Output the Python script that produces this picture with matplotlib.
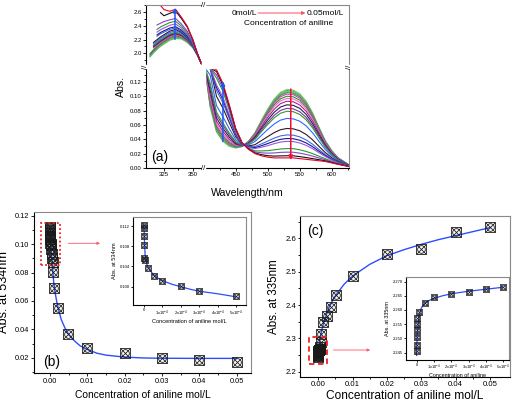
import numpy as np
import matplotlib
matplotlib.use('Agg')
import matplotlib.pyplot as plt
from matplotlib.patches import Rectangle

plt.rcParams['font.family'] = ['Liberation Sans', 'DejaVu Sans']
plt.rcParams['mathtext.default'] = 'regular'

# ---------------- (a) spectra, 0 -> 0.05 mol/L aniline ----------------
uv_wl = [313, 316, 319, 322, 325, 330, 335, 340, 345, 350, 354, 358]
vis_wl = [400, 410, 420, 430, 440, 450, 460, 470, 480, 490, 500, 510,
          520, 530, 540, 550, 560, 570, 580, 590, 600, 610, 627]

# UV band values, each list ends at 358 nm (curves start at different wavelengths)
uv_abs = [
    [1.945, 2.005, 2.055, 2.100, 2.135, 2.190, 2.215, 2.210, 2.160, 2.080, 1.970, 1.79],
    [1.955, 2.015, 2.065, 2.110, 2.145, 2.200, 2.225, 2.217, 2.166, 2.083, 1.970, 1.79],
    [1.965, 2.025, 2.075, 2.120, 2.155, 2.210, 2.235, 2.225, 2.171, 2.086, 1.971, 1.79],
    [1.975, 2.035, 2.085, 2.130, 2.165, 2.220, 2.245, 2.232, 2.177, 2.088, 1.971, 1.79],
    [1.985, 2.045, 2.095, 2.140, 2.175, 2.230, 2.255, 2.240, 2.182, 2.091, 1.972, 1.79],
    [1.995, 2.052, 2.102, 2.147, 2.182, 2.237, 2.262, 2.245, 2.186, 2.093, 1.972, 1.79],
    [2.080, 2.120, 2.160, 2.192, 2.245, 2.270, 2.251, 2.191, 2.095, 1.973, 1.79],
    [2.090, 2.130, 2.170, 2.202, 2.255, 2.280, 2.258, 2.196, 2.098, 1.973, 1.79],
    [2.100, 2.140, 2.180, 2.212, 2.265, 2.290, 2.266, 2.202, 2.101, 1.973, 1.79],
    [2.110, 2.150, 2.190, 2.222, 2.275, 2.300, 2.273, 2.208, 2.104, 1.974, 1.79],
    [2.120, 2.160, 2.200, 2.232, 2.285, 2.310, 2.281, 2.213, 2.107, 1.974, 1.79],
    [2.140, 2.180, 2.220, 2.252, 2.305, 2.330, 2.295, 2.224, 2.112, 1.975, 1.79],
    [2.160, 2.200, 2.240, 2.272, 2.325, 2.350, 2.310, 2.235, 2.118, 1.976, 1.79],
    [2.250, 2.285, 2.310, 2.350, 2.370, 2.325, 2.246, 2.123, 1.977, 1.79],
    [2.270, 2.305, 2.330, 2.370, 2.390, 2.340, 2.258, 2.129, 1.978, 1.79],
    [2.310, 2.345, 2.370, 2.410, 2.430, 2.370, 2.280, 2.140, 1.980, 1.79],
    [2.350, 2.385, 2.410, 2.450, 2.470, 2.400, 2.302, 2.151, 1.982, 1.79],
    [2.415, 2.440, 2.465, 2.490, 2.510, 2.430, 2.325, 2.162, 1.984, 1.79],
    [2.595, 2.550, 2.585, 2.620, 2.510, 2.386, 2.193, 1.989, 1.79],
    [2.700, 2.640, 2.615, 2.645, 2.530, 2.400, 2.200, 1.990, 1.79],
]

vis_abs = [
    [0.300, 0.085, 0.050, 0.037, 0.030, 0.028, 0.030, 0.037, 0.049, 0.066, 0.082, 0.096,
     0.1055, 0.1095, 0.1085, 0.1035, 0.093, 0.077, 0.057, 0.038, 0.024, 0.014, 0.004],
    [0.300, 0.087, 0.051, 0.038, 0.031, 0.028, 0.030, 0.037, 0.0485, 0.065, 0.081, 0.095,
     0.104, 0.108, 0.107, 0.102, 0.092, 0.076, 0.056, 0.0375, 0.024, 0.014, 0.004],
    [0.301, 0.088, 0.053, 0.0395, 0.032, 0.029, 0.030, 0.037, 0.048, 0.0645, 0.080, 0.0935,
     0.1027, 0.1065, 0.1056, 0.1007, 0.0905, 0.075, 0.0555, 0.037, 0.0235, 0.014, 0.004],
    [0.301, 0.090, 0.054, 0.041, 0.033, 0.029, 0.030, 0.0365, 0.0476, 0.0637, 0.0789, 0.0921,
     0.1012, 0.105, 0.1041, 0.0992, 0.0892, 0.0739, 0.0548, 0.0366, 0.0232, 0.0136, 0.004],
    [0.302, 0.092, 0.056, 0.0425, 0.034, 0.030, 0.030, 0.0363, 0.047, 0.0627, 0.0774, 0.0904,
     0.0993, 0.103, 0.1021, 0.0973, 0.0875, 0.0725, 0.0538, 0.036, 0.0228, 0.0134, 0.0039],
    [0.303, 0.0954, 0.0586, 0.045, 0.0357, 0.0307, 0.0305, 0.0359, 0.0461, 0.0611, 0.0754, 0.0879,
     0.0964, 0.100, 0.0991, 0.0945, 0.085, 0.0705, 0.0523, 0.0351, 0.0223, 0.0131, 0.0038],
    [0.304, 0.0988, 0.0614, 0.0476, 0.0376, 0.0315, 0.0307, 0.0356, 0.0452, 0.0596, 0.0732, 0.0853,
     0.0935, 0.097, 0.0961, 0.0916, 0.0824, 0.0684, 0.0508, 0.0342, 0.0218, 0.0128, 0.0037],
    [0.305, 0.1032, 0.0651, 0.051, 0.040, 0.0327, 0.0309, 0.0351, 0.044, 0.0575, 0.0704, 0.0818,
     0.0897, 0.093, 0.0922, 0.0878, 0.079, 0.0656, 0.0489, 0.033, 0.0211, 0.0124, 0.0037],
    [0.307, 0.1086, 0.0696, 0.0552, 0.043, 0.0341, 0.0311, 0.0345, 0.0425, 0.055, 0.0669, 0.0775,
     0.0849, 0.088, 0.0872, 0.0831, 0.0748, 0.0621, 0.0464, 0.0315, 0.0202, 0.012, 0.0036],
    [0.308, 0.1141, 0.0741, 0.0594, 0.0461, 0.0355, 0.0314, 0.034, 0.041, 0.0524, 0.0634, 0.0733,
     0.0802, 0.083, 0.0823, 0.0784, 0.0706, 0.0587, 0.044, 0.030, 0.0193, 0.0115, 0.0034],
    [0.310, 0.1185, 0.0778, 0.0628, 0.0485, 0.0366, 0.0316, 0.0335, 0.0397, 0.0504, 0.0606, 0.0698,
     0.0763, 0.079, 0.0784, 0.0746, 0.0672, 0.0559, 0.042, 0.0287, 0.0186, 0.0111, 0.0034],
    [0.313, 0.1295, 0.0869, 0.0713, 0.0546, 0.0394, 0.0321, 0.0323, 0.0367, 0.0452, 0.0536, 0.0612,
     0.0667, 0.069, 0.0684, 0.0651, 0.0587, 0.049, 0.0371, 0.0257, 0.0168, 0.0102, 0.0032],
    [0.317, 0.145, 0.0997, 0.0833, 0.0631, 0.0434, 0.0329, 0.0307, 0.0324, 0.038, 0.0437, 0.0492,
     0.0533, 0.055, 0.0545, 0.0518, 0.0467, 0.0393, 0.0302, 0.0214, 0.0143, 0.0089, 0.0029],
    [0.320, 0.1548, 0.1079, 0.0909, 0.0686, 0.046, 0.0333, 0.0297, 0.0297, 0.0334, 0.0374, 0.0415,
     0.0447, 0.046, 0.0457, 0.0433, 0.0391, 0.0331, 0.0257, 0.0187, 0.0127, 0.008, 0.0027],
    [0.3215, 0.1603, 0.1124, 0.0951, 0.0716, 0.0474, 0.0336, 0.0291, 0.0282, 0.0309, 0.034, 0.0372,
     0.0399, 0.041, 0.0407, 0.0386, 0.0349, 0.0297, 0.0233, 0.0172, 0.0118, 0.0075, 0.0026],
    [0.323, 0.1647, 0.116, 0.0985, 0.074, 0.0485, 0.0338, 0.0287, 0.027, 0.0288, 0.0311, 0.0338,
     0.0361, 0.037, 0.0368, 0.0348, 0.0315, 0.0269, 0.0213, 0.016, 0.0111, 0.0072, 0.0025],
    [0.326, 0.1757, 0.1252, 0.107, 0.0801, 0.0513, 0.0343, 0.0275, 0.0239, 0.0237, 0.0241, 0.0252,
     0.0264, 0.027, 0.0269, 0.0253, 0.023, 0.020, 0.0164, 0.0129, 0.0093, 0.0062, 0.0023],
    [0.327, 0.1812, 0.1297, 0.1112, 0.0831, 0.0527, 0.0346, 0.0269, 0.0224, 0.0211, 0.0206, 0.0209,
     0.0217, 0.022, 0.0219, 0.0206, 0.0188, 0.0165, 0.0139, 0.0114, 0.0084, 0.0058, 0.0022],
    [0.329, 0.1867, 0.1343, 0.1155, 0.0862, 0.0542, 0.0348, 0.0263, 0.0209, 0.0185, 0.0171, 0.0165,
     0.0168, 0.017, 0.0169, 0.0158, 0.0145, 0.013, 0.0115, 0.0099, 0.0075, 0.0053, 0.0021],
    [0.330, 0.190, 0.137, 0.118, 0.088, 0.055, 0.035, 0.026, 0.020, 0.017, 0.015, 0.014,
     0.014, 0.014, 0.014, 0.013, 0.012, 0.011, 0.010, 0.009, 0.007, 0.005, 0.002],
]

spec_colors = ['#8fbf8f', '#33cc33', '#9a9a9a', '#22aa22', '#cc44cc', '#2e8b2e', '#ff66cc',
               '#aa2299', '#222244', '#7733aa', '#339933', '#3366ff', '#331a1a', '#4466ee',
               '#1a1a88', '#9955dd', '#2a9a2a', '#8844cc', '#111111', '#e8002a']

# ---------------- (b) Abs at 534 nm ----------------
conc_b = [0, 0, 0, 0, 0.00002, 0.00004, 0.00005, 0.0001, 0.0002, 0.0003, 0.0004, 0.0005,
          0.0006, 0.0007, 0.0008, 0.0011, 0.0022, 0.0049, 0.01, 0.02, 0.03, 0.04, 0.05]
abs_b = [0.1122, 0.1116, 0.1100, 0.1082, 0.1056, 0.1052, 0.1037, 0.1012, 0.1001, 0.0992, 0.0965,
         0.0935, 0.0905, 0.0875, 0.0807, 0.0689, 0.0548, 0.0367, 0.0271, 0.0231, 0.0200, 0.0184, 0.0172]
fit_b_x = [0, 0.0003, 0.0006, 0.001, 0.0015, 0.002, 0.003, 0.004, 0.005, 0.0065, 0.008, 0.01,
           0.0125, 0.015, 0.02, 0.025, 0.03, 0.04, 0.05]
fit_b_y = [0.112, 0.097, 0.086, 0.073, 0.064, 0.057, 0.047, 0.041, 0.0365, 0.032, 0.0285, 0.0258,
           0.0232, 0.0218, 0.0204, 0.0198, 0.0196, 0.0195, 0.0195]

conc_bi = [0, 0, 0, 0, 0.02e-4, 0.04e-4, 0.24e-4, 0.54e-4, 1e-4, 2e-4, 3e-4, 5e-4]
abs_bi = [0.1122, 0.1116, 0.1100, 0.1082, 0.1056, 0.1052, 0.1037, 0.1021, 0.1012, 0.1001, 0.0992, 0.0982]
fit_bi_x = [0, 0.03e-4, 0.07e-4, 0.15e-4, 0.24e-4, 0.4e-4, 0.54e-4, 0.75e-4, 1e-4, 1.5e-4,
            2e-4, 2.5e-4, 3e-4, 4e-4, 5e-4]
fit_bi_y = [0.1125, 0.1085, 0.1058, 0.1045, 0.1038, 0.1029, 0.1023, 0.1017, 0.1012, 0.1005,
            0.1000, 0.0995, 0.0991, 0.0986, 0.0980]

# ---------------- (c) Abs at 335 nm ----------------
conc_c = [0, 0, 0, 0, 0, 0, 0.00001, 0.00005, 0.0001, 0.0002, 0.0003, 0.0004, 0.0005, 0.0006,
          0.0007, 0.0008, 0.0015, 0.0024, 0.0036, 0.0051, 0.01, 0.02, 0.03, 0.04, 0.05]
abs_c = [2.2454, 2.2477, 2.2506, 2.2530, 2.2551, 2.2571, 2.2594, 2.2626, 2.2647, 2.2657, 2.2665,
         2.2673, 2.2682, 2.275, 2.290, 2.313, 2.350, 2.367, 2.393, 2.430, 2.487, 2.553, 2.567,
         2.620, 2.633]
fit_c_x = [0, 0.0002, 0.0005, 0.001, 0.0015, 0.002, 0.003, 0.004, 0.005, 0.0075, 0.01, 0.015,
           0.02, 0.025, 0.03, 0.035, 0.04, 0.045, 0.05]
fit_c_y = [2.245, 2.275, 2.300, 2.325, 2.345, 2.360, 2.390, 2.410, 2.428, 2.462, 2.487, 2.522,
           2.548, 2.566, 2.582, 2.596, 2.608, 2.620, 2.632]

conc_ci = [0, 0, 0, 0, 0, 0, 0.15e-4, 0.48e-4, 1e-4, 2e-4, 3e-4, 4e-4, 5e-4]
abs_ci = [2.2454, 2.2477, 2.2506, 2.2530, 2.2551, 2.2571, 2.2594, 2.2626, 2.2647, 2.2657,
          2.2665, 2.2673, 2.2682]
fit_ci_x = [0, 0.02e-4, 0.04e-4, 0.1e-4, 0.15e-4, 0.25e-4, 0.38e-4, 0.6e-4, 1e-4, 1.5e-4,
            2e-4, 3e-4, 4e-4, 5e-4]
fit_ci_y = [2.2440, 2.2480, 2.2518, 2.2560, 2.2583, 2.2604, 2.2618, 2.2630, 2.2641, 2.2650,
            2.2657, 2.2666, 2.2673, 2.2680]

inset_x_ticks = [0, 1e-4, 2e-4, 3e-4, 4e-4, 5e-4]
inset_x_labels = ['0'] + [r'%dx10$^{-4}$' % i for i in range(1, 6)]

FIT = '#2a4dff'
GRAY = '#8a8a8a'


def piecewise(data_pts, axis_pts):
    # broken axis: linear pieces, the gap squeezed into a few pixels
    def fwd(v):
        return np.interp(v, data_pts, axis_pts)

    def inv(v):
        return np.interp(v, axis_pts, data_pts)
    return fwd, inv


def style(ax, size, major=2.0, minor=1.2, pad=0.8):
    ax.tick_params(which='both', direction='out', top=False, right=False,
                   labelsize=size, width=0.6, pad=pad)
    ax.tick_params(which='major', length=major)
    ax.tick_params(which='minor', length=minor)
    for s in ('top', 'right'):
        ax.spines[s].set_color(GRAY)
    for s in ax.spines.values():
        s.set_linewidth(0.8)


def xbox(ax, x, y, ms, mew=0.6):
    for m, f in (('s', 1.0), ('x', 1.0), ('o', 0.85)):
        ax.plot(x, y, ls='none', marker=m, ms=ms * f, mfc='none', mec='#1a1a1a',
                mew=mew, zorder=4)


fig = plt.figure(figsize=(5.21, 4.03), dpi=100)

# ---------------- panel (a) ----------------
ax = fig.add_axes([0.28023, 0.58238, 0.38964, 0.40521])
ax.set_xscale('function', functions=piecewise([0, 309.5, 357.8, 402, 627, 1000],
                                              [-358.7, 0, 56, 59, 203, 441.7]))
ax.set_yscale('function', functions=piecewise([-1, -0.0005, 0.1393, 1.829, 2.707, 10],
                                              [-717.1, 0, 100.3, 103.3, 163.3, 661.7]))
for uv, vis, col in zip(uv_abs, vis_abs, spec_colors):
    wl = uv_wl[len(uv_wl) - len(uv):] + vis_wl
    ax.plot(wl, uv + vis, color=col, lw=0.8)
ax.set_xlim(309.5, 627)
ax.set_ylim(-0.0005, 2.707)

# white bands hide the squeezed gaps
ax.add_patch(Rectangle((357.8, -0.05), 402 - 357.8, 1.1, color='white', zorder=3,
                       transform=ax.get_xaxis_transform(), clip_on=False))
ax.add_patch(Rectangle((-0.05, 0.1393), 1.1, 1.829 - 0.1393, color='white', zorder=3,
                       transform=ax.get_yaxis_transform(), clip_on=False))
for xx, yy, rot in ((0.283, 0.0, 0), (0.283, 1.0, 0), (0.0, 0.623, 90), (1.0, 0.623, 90)):
    ax.text(xx, yy, '//', transform=ax.transAxes, ha='center', va='center', fontsize=5.5,
            rotation=rot, zorder=6, clip_on=False)

ax.set_xticks([325, 350, 450, 500, 550, 600], labels=['325', '350', '450', '500', '550', '600'])
ax.set_xticks([337.5, 425, 475, 525, 575, 625], minor=True)
yt = [0, 0.02, 0.04, 0.06, 0.08, 0.10, 0.12, 2.0, 2.2, 2.4, 2.6]
ax.set_yticks(yt, labels=['%.2f' % v for v in yt[:7]] + ['%.1f' % v for v in yt[7:]])
ax.set_yticks([0.01, 0.03, 0.05, 0.07, 0.09, 0.11, 0.13, 1.9, 2.1, 2.3, 2.5, 2.7], minor=True)
style(ax, 4.3, 2.0, 1.1, 1.0)
ax.set_xlabel('Wavelength/nm', fontsize=7.6)
ax.set_ylabel('Abs.', fontsize=7.6)
ax.xaxis.set_label_coords(0.5, -0.12)
ax.yaxis.set_label_coords(-0.10, 0.5)

arrow_kw = dict(arrowstyle='-|>', lw=1.1, mutation_scale=6, shrinkA=0, shrinkB=0)
ax.annotate('', xy=(334.5, 2.665), xytext=(334.5, 2.205),
            arrowprops=dict(color='#2255ee', **arrow_kw), zorder=5)
ax.annotate('', xy=(430, 0.121), xytext=(430, 0.037),
            arrowprops=dict(color='#2255ee', **arrow_kw), zorder=5)
ax.annotate('', xy=(536, 0.011), xytext=(536, 0.110),
            arrowprops=dict(color='#ee1133', **arrow_kw), zorder=5)

ax.text(0.424, 0.951, '0mol/L', transform=ax.transAxes, fontsize=6, va='center')
ax.text(0.793, 0.951, '0.05mol/L', transform=ax.transAxes, fontsize=6, va='center')
ax.annotate('', xy=(0.785, 0.951), xytext=(0.552, 0.951), xycoords='axes fraction',
            arrowprops=dict(arrowstyle='-|>', color='#ff4d5e', lw=0.7, mutation_scale=5,
                            shrinkA=0, shrinkB=0))
ax.text(0.704, 0.884, 'Concentration of aniline', transform=ax.transAxes, fontsize=6,
        ha='center', va='center')
ax.text(0.069, 0.07, '(a)', transform=ax.transAxes, fontsize=10, ha='center', va='center')

# ---------------- panel (b) ----------------
axb = fig.add_axes([0.06583, 0.07519, 0.41536, 0.39876])
axb.plot(fit_b_x, fit_b_y, color=FIT, lw=1.0, zorder=3)
xbox(axb, conc_b, abs_b, 6.5)
axb.set_xlim(-0.0042, 0.05375)
axb.set_ylim(0.0094, 0.1228)
axb.set_xticks([0, 0.01, 0.02, 0.03, 0.04, 0.05])
axb.set_xticks([0.005, 0.015, 0.025, 0.035, 0.045], minor=True)
axb.set_yticks([0.02, 0.04, 0.06, 0.08, 0.10, 0.12])
axb.set_yticks([0.01, 0.03, 0.05, 0.07, 0.09, 0.11], minor=True)
axb.xaxis.set_major_formatter('{x:.2f}')
axb.yaxis.set_major_formatter('{x:.2f}')
style(axb, 5.3, 2.2, 1.3, 1.5)
axb.set_xlabel('Concentration of aniline mol/L', fontsize=7.4)
axb.set_ylabel('Abs. at 534nm', fontsize=9.2)
axb.xaxis.set_label_coords(0.5, -0.105)
axb.yaxis.set_label_coords(-0.11, 0.5)
axb.add_patch(Rectangle((-0.0024, 0.0853), 0.0051, 0.030, fill=False, ec='#ee2222', lw=1.3,
                        ls=(0, (1, 1.3)), zorder=5))
axb.annotate('', xy=(0.0134, 0.1007), xytext=(0.0049, 0.1007),
             arrowprops=dict(arrowstyle='-|>', color='#ff5566', lw=0.6, mutation_scale=4,
                             shrinkA=0, shrinkB=0))
axb.text(0.04, 0.067, '(b)', transform=axb.transAxes, fontsize=10, ha='left', va='center')

axbi = fig.add_axes([0.25585, 0.24318, 0.21631, 0.21911])
axbi.plot(fit_bi_x, fit_bi_y, color=FIT, lw=0.9, zorder=3)
xbox(axbi, conc_bi, abs_bi, 4.3, 0.5)
axbi.set_xlim(-0.58e-4, 5.54e-4)
axbi.set_ylim(0.09638, 0.11385)
axbi.set_xticks(inset_x_ticks, labels=inset_x_labels)
axbi.set_yticks([0.100, 0.104, 0.108, 0.112])
axbi.yaxis.set_major_formatter('{x:.3f}')
style(axbi, 3.0, 1.5, 0.9, 1.0)
axbi.set_xlabel('Concentration of aniline mol/L', fontsize=4.1, labelpad=1)
axbi.set_ylabel('Abs. at 534nm', fontsize=4.1, labelpad=2)

# ---------------- panel (c) ----------------
axc = fig.add_axes([0.5758, 0.06328, 0.40307, 0.40074])
axc.plot(fit_c_x, fit_c_y, color=FIT, lw=1.0, zorder=3)
xbox(axc, conc_c, abs_c, 6.5)
axc.set_xlim(-0.00533, 0.05582)
axc.set_ylim(2.1826, 2.6669)
axc.set_xticks([0, 0.01, 0.02, 0.03, 0.04, 0.05])
axc.set_xticks([0.005, 0.015, 0.025, 0.035, 0.045], minor=True)
axc.set_yticks([2.2, 2.3, 2.4, 2.5, 2.6])
axc.set_yticks([2.25, 2.35, 2.45, 2.55, 2.65], minor=True)
axc.xaxis.set_major_formatter('{x:.2f}')
axc.yaxis.set_major_formatter('{x:.1f}')
style(axc, 5.6, 1.8, 1.1, 0.6)
axc.set_xlabel('Concentration of aniline mol/L', fontsize=8.6)
axc.set_ylabel('Abs. at 335nm', fontsize=8.4)
axc.xaxis.set_label_coords(0.5, -0.075)
axc.yaxis.set_label_coords(-0.095, 0.5)
axc.add_patch(Rectangle((-0.0026, 2.222), 0.005, 0.081, fill=False, ec='#ee2222', lw=1.3,
                        ls=(0, (3, 2)), zorder=5))
axc.annotate('', xy=(0.0151, 2.265), xytext=(0.0044, 2.265),
             arrowprops=dict(arrowstyle='-|>', color='#ff5566', lw=0.6, mutation_scale=4,
                             shrinkA=0, shrinkB=0))
axc.text(0.032, 0.91, '(c)', transform=axc.transAxes, fontsize=10, ha='left', va='center')

axci = fig.add_axes([0.77869, 0.10670, 0.1983, 0.20521])
axci.plot(fit_ci_x, fit_ci_y, color=FIT, lw=0.9, zorder=3)
xbox(axci, conc_ci, abs_ci, 4.0, 0.5)
axci.set_xlim(-0.63e-4, 5.34e-4)
axci.set_ylim(2.2424, 2.2715)
axci.set_xticks(inset_x_ticks, labels=inset_x_labels)
axci.set_yticks([2.245, 2.250, 2.255, 2.260, 2.265, 2.270])
axci.yaxis.set_major_formatter('{x:.3f}')
style(axci, 2.9, 1.4, 0.9, 0.8)
axci.set_xlabel('Concentration of aniline', fontsize=3.9, labelpad=0.5)
axci.set_ylabel('Abs. at 335nm', fontsize=3.9, labelpad=2)

fig.savefig('out.png', dpi=100)
